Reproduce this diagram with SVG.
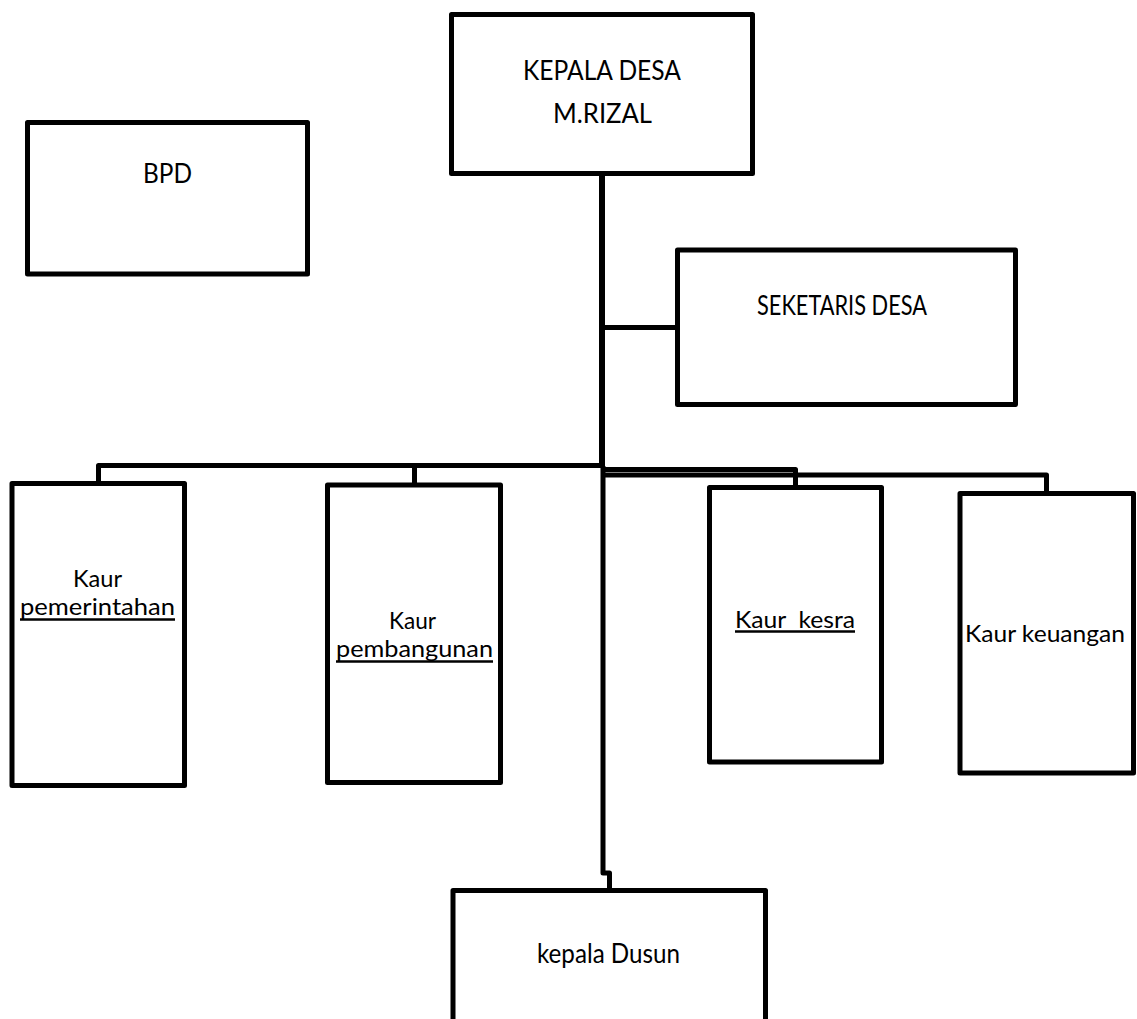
<svg xmlns="http://www.w3.org/2000/svg" width="1137" height="1019" viewBox="0 0 1137 1019">
<style>
.box{fill:#fff;stroke:#000;stroke-width:5;stroke-linejoin:round}
.ln{fill:none;stroke:#000;stroke-width:5;stroke-linejoin:round}
.t{font-family:Lato,"Open Sans","Liberation Sans",sans-serif;font-size:26px;fill:#000;text-anchor:middle}
.s{font-size:24px}
.ul{stroke:#000;stroke-width:2.5}
</style>
<rect width="1137" height="1019" fill="#fff"/>
<g id="connectors">
<path class="ln" d="M602,173.5 V466" style="stroke-width:6"/>
<path class="ln" d="M603,466 V873 H609.5 V890.5"/>
<path class="ln" d="M602,327.5 H677.5"/>
<path class="ln" d="M98.5,483.5 V465.5 H602"/>
<path class="ln" d="M414.5,485.5 V465.5"/>
<path class="ln" d="M602,469.5 H795.5 V487.5"/>
<path class="ln" d="M602,475 H1046.5 V493.5"/>
</g>
<g id="kepala-desa">
<rect class="box" x="451.5" y="14.5" width="301" height="159"/>
<text class="t" x="602" y="80" textLength="158" lengthAdjust="spacingAndGlyphs">KEPALA DESA</text>
<text class="t" x="602.5" y="123" textLength="99" lengthAdjust="spacingAndGlyphs">M.RIZAL</text>
</g>
<g id="bpd">
<rect class="box" x="27.5" y="122.5" width="280" height="151.5"/>
<text class="t" x="167.5" y="183" textLength="49" lengthAdjust="spacingAndGlyphs">BPD</text>
</g>
<g id="seketaris-desa">
<rect class="box" x="677.5" y="250" width="338" height="154.5"/>
<text class="t" x="842" y="315" textLength="170" lengthAdjust="spacingAndGlyphs">SEKETARIS DESA</text>
</g>
<g id="kaur-pemerintahan">
<rect class="box" x="12" y="483.5" width="172.5" height="302"/>
<text class="t s" x="97.5" y="587" textLength="49" lengthAdjust="spacingAndGlyphs">Kaur</text>
<text class="t s" x="97.5" y="615" textLength="155" lengthAdjust="spacingAndGlyphs">pemerintahan</text>
<line class="ul" x1="20" y1="619.5" x2="175" y2="619.5"/>
</g>
<g id="kaur-pembangunan">
<rect class="box" x="327.5" y="485" width="173" height="297.5"/>
<text class="t s" x="412.5" y="629" textLength="47" lengthAdjust="spacingAndGlyphs">Kaur</text>
<text class="t s" x="414.5" y="657" textLength="157" lengthAdjust="spacingAndGlyphs">pembangunan</text>
<line class="ul" x1="336" y1="661.5" x2="493" y2="661.5"/>
</g>
<g id="kaur-kesra">
<rect class="box" x="709.5" y="487.5" width="172" height="274.5"/>
<text class="t s" x="795" y="628" textLength="120" lengthAdjust="spacingAndGlyphs" xml:space="preserve">Kaur  kesra</text>
<line class="ul" x1="735" y1="631.5" x2="855" y2="631.5"/>
</g>
<g id="kaur-keuangan">
<rect class="box" x="960" y="493.5" width="173.5" height="279.5"/>
<text class="t s" x="1045" y="642" textLength="160" lengthAdjust="spacingAndGlyphs">Kaur keuangan</text>
</g>
<g id="kepala-dusun">
<rect class="box" x="453" y="890.5" width="312.5" height="145"/>
<text class="t" x="608.5" y="963" textLength="143" lengthAdjust="spacingAndGlyphs">kepala Dusun</text>
</g>
</svg>
